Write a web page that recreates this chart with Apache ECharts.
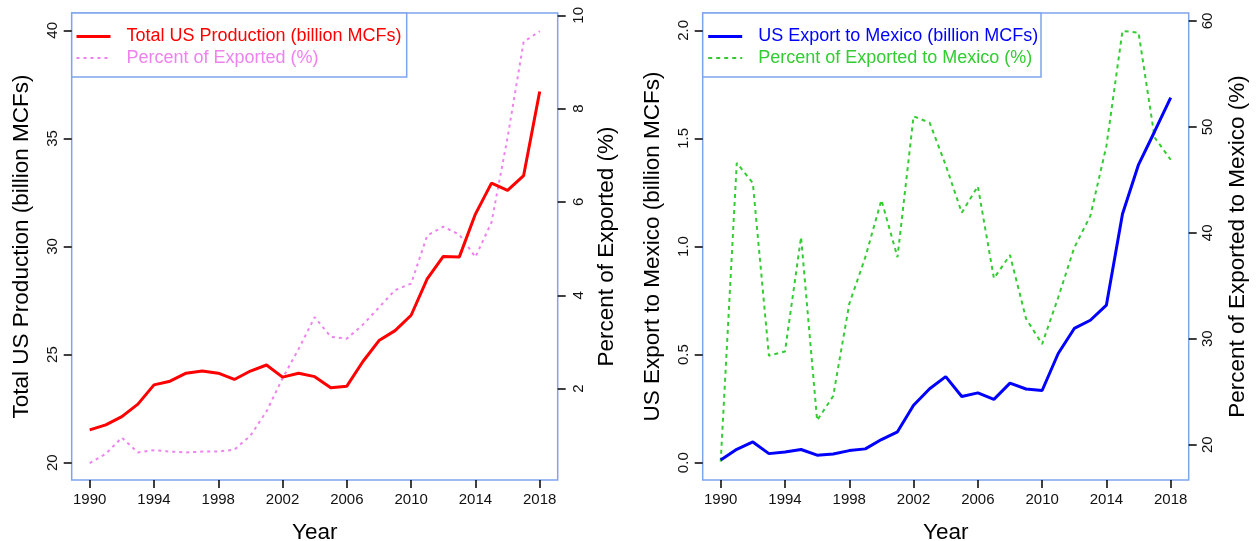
<!DOCTYPE html>
<html>
<head>
<meta charset="utf-8">
<script src="https://cdn.jsdelivr.net/npm/echarts@6/dist/echarts.min.js"></script>
<style>
html,body{margin:0;padding:0;background:#fff;}
#chart{width:1258px;height:541px;}
</style>
</head>
<body>
<div id="chart"></div>
<script>
const years = [1990,1991,1992,1993,1994,1995,1996,1997,1998,1999,2000,2001,2002,2003,2004,2005,2006,2007,2008,2009,2010,2011,2012,2013,2014,2015,2016,2017,2018];
const totalProduction = [21.52,21.75,22.13,22.71,23.6,23.77,24.14,24.24,24.14,23.85,24.24,24.52,23.96,24.14,23.98,23.47,23.54,24.68,25.65,26.11,26.82,28.5,29.54,29.52,31.5,32.93,32.6,33.28,37.17];
const pctExported = [0.4,0.6,0.95,0.63,0.68,0.65,0.63,0.65,0.65,0.69,0.99,1.51,2.22,2.85,3.53,3.11,3.07,3.37,3.74,4.11,4.25,5.28,5.47,5.3,4.82,5.56,7.38,9.43,9.66];
const exportMexico = [0.012,0.062,0.096,0.042,0.05,0.061,0.035,0.04,0.056,0.064,0.107,0.143,0.266,0.342,0.398,0.306,0.323,0.293,0.368,0.341,0.334,0.505,0.621,0.659,0.729,1.15,1.379,1.532,1.689];
const pctMexico = [18.4,46.6,44.7,28.4,28.8,39.6,22.3,24.6,33.3,37.7,43.1,37.7,51.0,50.4,46.4,41.9,44.4,35.7,37.9,31.9,29.5,33.9,38.6,41.6,48.2,59.06,58.9,49.0,46.9];
const xTicks = [1990,1994,1998,2002,2006,2010,2014,2018];
const prodTicks = [20,25,30,35,40];
const pctTicks = [2,4,6,8,10];
const mexTicks = [0,0.5,1,1.5,2];
const pctMexTicks = [20,30,40,50,60];

const FONT = 'Liberation Sans, Arial, sans-serif';
const BOX = '#7EA5EC';
const pairs = arr => years.map((y,i)=>[y, arr[i]]);

function xAxis(gi){
  return {
    type:'value', gridIndex:gi, min:1988.88, max:2019.12,
    axisLine:{show:false, onZero:false}, splitLine:{show:false},
    axisTick:{show:true, customValues:xTicks, length:8, lineStyle:{color:'#000',width:1.5}},
    axisLabel:{customValues:xTicks, formatter:v=>String(v), fontSize:15, color:'#111', fontFamily:FONT, margin:12},
    name:'Year', nameLocation:'middle', nameGap:41,
    nameTextStyle:{fontSize:22.5, color:'#000', fontFamily:FONT}
  };
}
function yAxis(gi, pos, min, max, ticks, name, fmt, gap, lm){
  return {
    type:'value', gridIndex:gi, position:pos, min:min, max:max,
    axisLine:{show:false, onZero:false}, splitLine:{show:false},
    axisTick:{show:true, customValues:ticks, length:8, lineStyle:{color:'#000',width:1.5}},
    axisLabel:{customValues:ticks, rotate:90, formatter:fmt, fontSize:15, color:'#111', fontFamily:FONT, margin:lm},
    name:name, nameLocation:'middle', nameGap:gap, nameRotate:90,
    nameTextStyle:{fontSize:22.5, color:'#000', fontFamily:FONT}
  };
}
function legend(left, names, colors, widths){
  return {orient:'vertical', left:left, top:27.5, padding:0, itemWidth:34, itemHeight:14, itemGap:3.5,
    itemStyle:{opacity:0},
    textStyle:{fontSize:18, fontFamily:FONT, padding:[0,0,0,11]},
    data:names.map((n,i)=>({name:n, textStyle:{color:colors[i]}, lineStyle:{width:widths[i]}}))};
}

const chart = echarts.init(document.getElementById('chart'), null, {renderer:'canvas'});
chart.setOption({
  animation:false,
  backgroundColor:'#fff',
  textStyle:{fontFamily:FONT},
  grid:[
    {left:71.7, top:13, width:486, height:467, outerBoundsMode:'none', containLabel:false, show:true, borderColor:BOX, borderWidth:1.5, backgroundColor:'transparent'},
    {left:702.7, top:13, width:486, height:467, outerBoundsMode:'none', containLabel:false, show:true, borderColor:BOX, borderWidth:1.5, backgroundColor:'transparent'}
  ],
  xAxis:[xAxis(0), xAxis(1)],
  yAxis:[
    yAxis(0,'left',19.2,40.8,prodTicks,'Total US Production (billion MCFs)',v=>String(v),38,11),
    yAxis(0,'right',0.04,10.05,pctTicks,'Percent of Exported (%)',v=>String(v),38,14),
    yAxis(1,'left',-0.08,2.08,mexTicks,'US Export to Mexico (billion MCFs)',v=>v.toFixed(1),38,11),
    yAxis(1,'right',16.67,60.75,pctMexTicks,'Percent of Exported to Mexico (%)',v=>String(v),38,12)
  ],
  legend:[
    legend(75, ['Total US Production (billion MCFs)','Percent of Exported (%)'], ['#FF0000','#EE82EE'], [3,2]),
    legend(706.7, ['US Export to Mexico (billion MCFs)','Percent of Exported to Mexico (%)'], ['#0000FF','#33CC33'], [3,2])
  ],
  graphic:[
    {type:'rect', shape:{x:71.7, y:13, width:335, height:64}, style:{fill:'#fff', stroke:BOX, lineWidth:1.5}, z:0},
    {type:'rect', shape:{x:702.7, y:13, width:338.3, height:64}, style:{fill:'#fff', stroke:BOX, lineWidth:1.5}, z:0}
  ],
  series:[
    {name:'Total US Production (billion MCFs)', type:'line', xAxisIndex:0, yAxisIndex:0, data:pairs(totalProduction),
     showSymbol:false, symbol:'none', lineStyle:{color:'#FF0000', width:3}, itemStyle:{color:'#FF0000'}, z:5},
    {name:'Percent of Exported (%)', type:'line', xAxisIndex:0, yAxisIndex:1, data:pairs(pctExported),
     showSymbol:false, symbol:'none', lineStyle:{color:'#EE82EE', width:2, type:[3,4]}, itemStyle:{color:'#EE82EE'}, z:4},
    {name:'US Export to Mexico (billion MCFs)', type:'line', xAxisIndex:1, yAxisIndex:2, data:pairs(exportMexico),
     showSymbol:false, symbol:'none', lineStyle:{color:'#0000FF', width:3}, itemStyle:{color:'#0000FF'}, z:5},
    {name:'Percent of Exported to Mexico (%)', type:'line', xAxisIndex:1, yAxisIndex:3, data:pairs(pctMexico),
     showSymbol:false, symbol:'none', lineStyle:{color:'#33CC33', width:2, type:[4,4]}, itemStyle:{color:'#33CC33'}, z:4}
  ]
});
</script>
</body>
</html>
